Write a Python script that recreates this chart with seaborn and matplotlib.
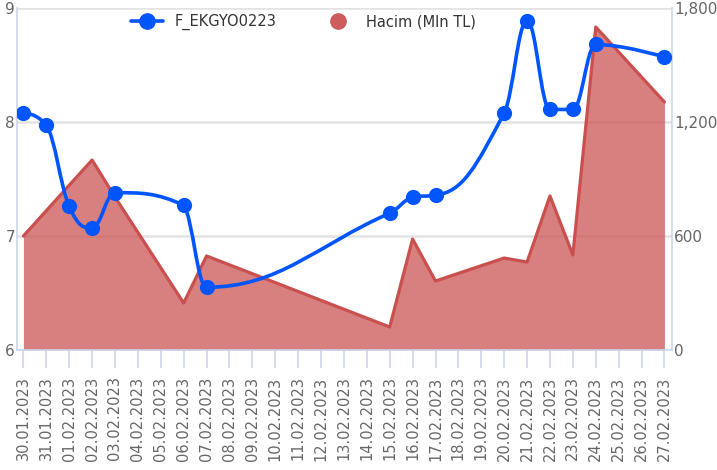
import numpy as np
import pandas as pd
import matplotlib
matplotlib.use("Agg")
import matplotlib.pyplot as plt
from matplotlib.path import Path
from matplotlib.patches import PathPatch
from matplotlib.lines import Line2D
import seaborn as sns

sns.set_theme(style="white")
plt.rcParams['font.family'] = ['DejaVu Sans']

# all calendar days on the category axis
day_labels = ['30.01.2023', '31.01.2023', '01.02.2023', '02.02.2023', '03.02.2023',
              '04.02.2023', '05.02.2023', '06.02.2023', '07.02.2023', '08.02.2023',
              '09.02.2023', '10.02.2023', '11.02.2023', '12.02.2023', '13.02.2023',
              '14.02.2023', '15.02.2023', '16.02.2023', '17.02.2023', '18.02.2023',
              '19.02.2023', '20.02.2023', '21.02.2023', '22.02.2023', '23.02.2023',
              '24.02.2023', '25.02.2023', '26.02.2023', '27.02.2023']

# trading days with data
trade_days = ['30.01.2023', '31.01.2023', '01.02.2023', '02.02.2023', '03.02.2023',
              '06.02.2023', '07.02.2023', '15.02.2023', '16.02.2023', '17.02.2023',
              '20.02.2023', '21.02.2023', '22.02.2023', '23.02.2023', '24.02.2023',
              '27.02.2023']
price = [8.08, 7.97, 7.26, 7.07, 7.38, 7.27, 6.55, 7.20, 7.34, 7.36,
         8.08, 8.89, 8.11, 8.11, 8.68, 8.57]
volume = [600, 733, 867, 1000, 805, 247, 495, 121, 584, 363,
          484, 463, 811, 500, 1700, 1305]

df = pd.DataFrame({'date': trade_days, 'price': price, 'volume': volume})
df['pos'] = df['date'].apply(day_labels.index)

blue = '#0055ff'
red_fill = '#cd5c5c'
red_line = '#c9504e'
axis_col = '#ccd6eb'
grid_col = '#e3e3e3'
txt_col = '#666666'


def spline_path(xs, ys, smoothing=1.5):
    # highcharts-like spline through the points
    denom = smoothing + 1
    n = len(xs)
    left = [(xs[i], ys[i]) for i in range(n)]
    right = [(xs[i], ys[i]) for i in range(n)]
    for i in range(1, n - 1):
        x, y = xs[i], ys[i]
        lx, ly = xs[i - 1], ys[i - 1]
        nx, ny = xs[i + 1], ys[i + 1]
        lcx = (smoothing * x + lx) / denom
        lcy = (smoothing * y + ly) / denom
        rcx = (smoothing * x + nx) / denom
        rcy = (smoothing * y + ny) / denom
        if rcx != lcx:
            corr = ((rcy - lcy) * (rcx - x)) / (rcx - lcx) + y - rcy
            lcy += corr
            rcy += corr
            if lcy > ly and lcy > y:
                lcy = max(ly, y)
                rcy = 2 * y - lcy
            elif lcy < ly and lcy < y:
                lcy = min(ly, y)
                rcy = 2 * y - lcy
            if rcy > ny and rcy > y:
                rcy = max(ny, y)
                lcy = 2 * y - rcy
            elif rcy < ny and rcy < y:
                rcy = min(ny, y)
                lcy = 2 * y - rcy
        left[i] = (lcx, lcy)
        right[i] = (rcx, rcy)
    verts = [(xs[0], ys[0])]
    codes = [Path.MOVETO]
    for i in range(1, n):
        verts += [right[i - 1], left[i], (xs[i], ys[i])]
        codes += [Path.CURVE4] * 3
    return Path(verts, codes)


fig = plt.figure(figsize=(7.17, 4.70), dpi=100)
ax = fig.add_axes([17 / 717, 1 - 350 / 470, 655 / 717, 342 / 470])
ax2 = ax.twinx()
ax.set_zorder(2)
ax.patch.set_visible(False)

# volume area (right axis)
ax2.fill_between(df['pos'], df['volume'], 0, color=red_fill, alpha=0.78, lw=0, zorder=2)
sns.lineplot(data=df, x='pos', y='volume', ax=ax2, color=red_line, lw=2.3, zorder=3)
ax2.set_ylim(0, 1800)
ax2.set_yticks([0, 600, 1200, 1800])
ax2.set_yticklabels(['0', '600', '1,200', '1,800'])
ax2.yaxis.grid(True, color=grid_col, lw=1.8)
ax2.set_axisbelow(True)
ax2.set_ylabel('')

# price spline (left axis)
ax.add_patch(PathPatch(spline_path(df['pos'].tolist(), df['price'].tolist()),
                       fill=False, edgecolor=blue, lw=2.6, zorder=4, capstyle='round'))
sns.scatterplot(data=df, x='pos', y='price', ax=ax, color=blue, s=120,
                edgecolor=blue, linewidth=0, zorder=5)
ax.set_ylim(6, 9)
ax.set_yticks([6, 7, 8, 9])
ax.set_yticklabels(['6', '7', '8', '9'])
ax.set_xlim(-0.28, 28.33)
ax.set_xticks(range(len(day_labels)))
ax.set_xticklabels(day_labels, rotation=90)
ax.set_xlabel('')
ax.set_ylabel('')

for a in (ax, ax2):
    for s in a.spines.values():
        s.set_visible(False)
ax.spines['left'].set_visible(True)
ax.spines['left'].set_color(axis_col)
ax.spines['left'].set_linewidth(1.2)
ax.spines['bottom'].set_visible(True)
ax.spines['bottom'].set_color(axis_col)
ax.spines['bottom'].set_linewidth(1.2)
ax2.spines['right'].set_visible(True)
ax2.spines['right'].set_color(axis_col)
ax2.spines['right'].set_linewidth(1.2)

ax.tick_params(axis='x', length=13, width=1.2, color=axis_col, pad=6,
               labelsize=10.5, labelcolor=txt_col, direction='out', bottom=True)
ax.tick_params(axis='y', length=0, pad=1.5, labelsize=11, labelcolor=txt_col, left=True)
ax2.tick_params(axis='y', length=0, pad=1.5, labelsize=11, labelcolor=txt_col, right=True)

handles = [Line2D([], [], color=blue, lw=2.6, marker='o', ms=11),
           Line2D([], [], color=red_fill, ls='none', marker='o', ms=11)]
fig.legend(handles, ['F_EKGYO0223', 'Hacim (Mln TL)'], loc='upper left',
           bbox_to_anchor=(118 / 717, 1 - 1 / 470), ncol=2, frameon=False,
           fontsize=10.5, labelcolor='#333333', handlelength=2.2,
           handletextpad=0.8, columnspacing=3.1)

fig.savefig('out.png', dpi=100)
